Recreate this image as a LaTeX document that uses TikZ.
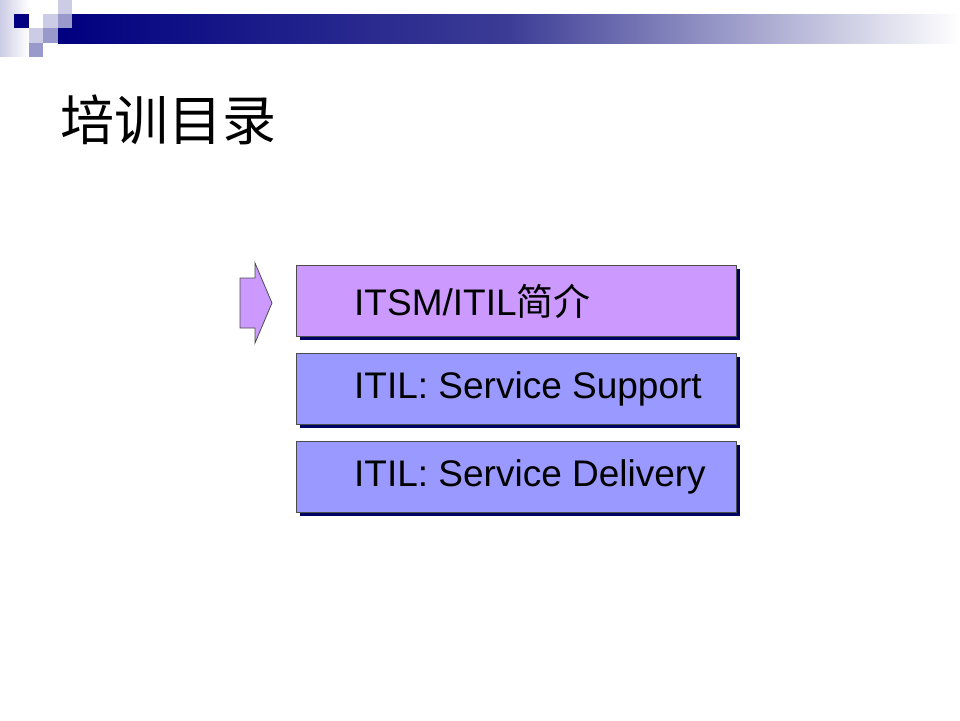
\documentclass[tikz,border=0pt]{standalone}
\usepackage{fontspec}
\setmainfont{Liberation Sans}
\newfontfamily\cjk{Noto Sans CJK SC}
\begin{document}
\begin{tikzpicture}[x=1pt,y=-1pt,
  box/.style={draw=black!70,line width=0.8pt},
  shad/.style={fill={rgb,255:red,0;green,0;blue,100}},
  lbl/.style={anchor=west,font=\fontsize{37}{40}\selectfont,inner sep=0pt}]
\useasboundingbox (0,0) rectangle (960,720);
\definecolor{navy}{RGB}{0,0,128}
\definecolor{lav}{RGB}{204,204,230}
\definecolor{med}{RGB}{153,153,204}
% header decoration
\shade[left color=lav,right color=white] (0,0) rectangle (29,56);
\fill[white] (29,0) rectangle (58,14);
\shade[left color=navy,right color=white,middle color={rgb,255:red,60;green,60;blue,150}] (58,14) rectangle (960,43);
\fill[navy] (14,14) rectangle (29,28);
\fill[white] (29,14) rectangle (43,28);
\fill[lav] (43,14) rectangle (58,28);
\fill[lav] (58,0) rectangle (72,14);
\fill[med] (58,14) rectangle (72,28);
\fill[lav] (29,28) rectangle (43,43);
\fill[med] (43,28) rectangle (58,43);
\fill[med] (29,43) rectangle (43,57);
% title
\node[anchor=west,inner sep=0pt,font=\cjk\fontsize{54}{58}\selectfont] (title) at (60,120) {培训目录};
% arrow
\draw[box,fill={rgb,255:red,204;green,153;blue,255}] (240,278) -- (255,278) -- (255,263) -- (272,303) -- (255,343) -- (255,328) -- (240,328) -- cycle;
% boxes
\fill[shad] (300,269) rectangle (740,340);
\draw[box,fill={rgb,255:red,204;green,153;blue,255}] (296,265) rectangle (736,336);
\node[lbl] (b1) at (354,301) {ITSM/ITIL{\cjk 简介}};
\fill[shad] (300,357) rectangle (740,428);
\draw[box,fill={rgb,255:red,153;green,153;blue,255}] (296,353) rectangle (736,424);
\node[lbl] (b2) at (354,389) {ITIL: Service Support};
\fill[shad] (300,445) rectangle (740,516);
\draw[box,fill={rgb,255:red,153;green,153;blue,255}] (296,441) rectangle (736,512);
\node[lbl] (b3) at (354,477) {ITIL: Service Delivery};
\end{tikzpicture}
\end{document}
